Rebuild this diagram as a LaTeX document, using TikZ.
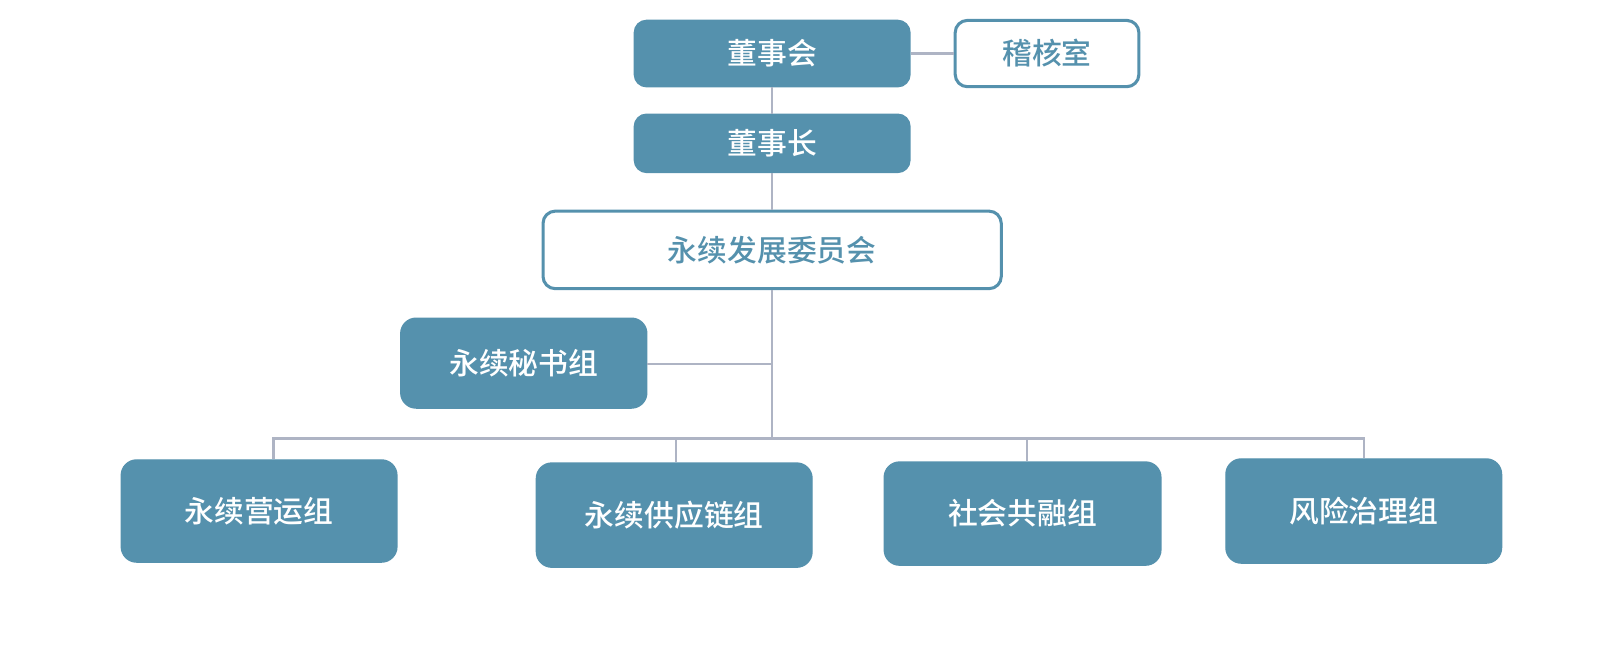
\documentclass[tikz,border=0pt]{standalone}
\usepackage{fontspec}
\newfontfamily\cjk{Noto Sans CJK SC Medium}
\definecolor{boxblue}{HTML}{5591AD}
\definecolor{linegrey}{HTML}{AEB4C4}
\begin{document}
\begin{tikzpicture}[x=0.01cm,y=-0.01cm,
  solidbox/.style={fill=boxblue,draw=boxblue,rounded corners=0.12cm,text=white,font=\cjk\fontsize{8.3}{10}\selectfont,inner sep=0pt,anchor=center},
  hollowbox/.style={fill=white,draw=boxblue,line width=0.85pt,rounded corners=0.12cm,text=boxblue,font=\cjk\fontsize{8.3}{10}\selectfont,inner sep=0pt,anchor=center},
  conn/.style={draw=linegrey,line width=0.65pt}]
\useasboundingbox (0,0) rectangle (1568.6,653.9);
\node[solidbox,minimum width=2.7cm,minimum height=0.65cm] (dsh) at (757,52.5) {董事会};
\node[hollowbox,minimum width=1.8cm,minimum height=0.65cm] (jhs) at (1026.5,52.5) {稽核室};
\node[solidbox,minimum width=2.7cm,minimum height=0.57cm] (dsz) at (757,140.5) {董事长};
\node[hollowbox,minimum width=4.49cm,minimum height=0.76cm] (wyh) at (757,245) {永续发展委员会};
\node[solidbox,minimum width=2.41cm,minimum height=0.88cm,rounded corners=0.15cm] (msz) at (513.5,356) {永续秘书组};
\node[solidbox,minimum width=2.7cm,minimum height=1.0cm,rounded corners=0.15cm] (yyz) at (254,501) {永续营运组};
\node[solidbox,minimum width=2.7cm,minimum height=1.02cm,rounded corners=0.15cm] (gyl) at (661,505) {永续供应链组};
\node[solidbox,minimum width=2.71cm,minimum height=1.01cm,rounded corners=0.15cm] (shg) at (1002.5,503.5) {社会共融组};
\node[solidbox,minimum width=2.7cm,minimum height=1.02cm,rounded corners=0.15cm] (fxz) at (1337,501) {风险治理组};
\coordinate (j1) at (757,357);
\coordinate (bus) at (757,430);
\begin{scope}[on background layer/.try]
\draw[conn] (dsh.east) -- (jhs.west);
\draw[conn] (dsh.south) -- (dsz.north);
\draw[conn] (dsz.south) -- (wyh.north);
\draw[conn] (wyh.south) -- (bus);
\draw[conn] (msz.east |- j1) -- (j1);
\draw[conn] (yyz.north -| 268,0) -- (268,430) -- (1337,430) -- (fxz.north -| 1337,0);
\draw[conn] (663,430) -- (gyl.north -| 663,0);
\draw[conn] (1007,430) -- (shg.north -| 1007,0);
\end{scope}
\end{tikzpicture}
\end{document}
